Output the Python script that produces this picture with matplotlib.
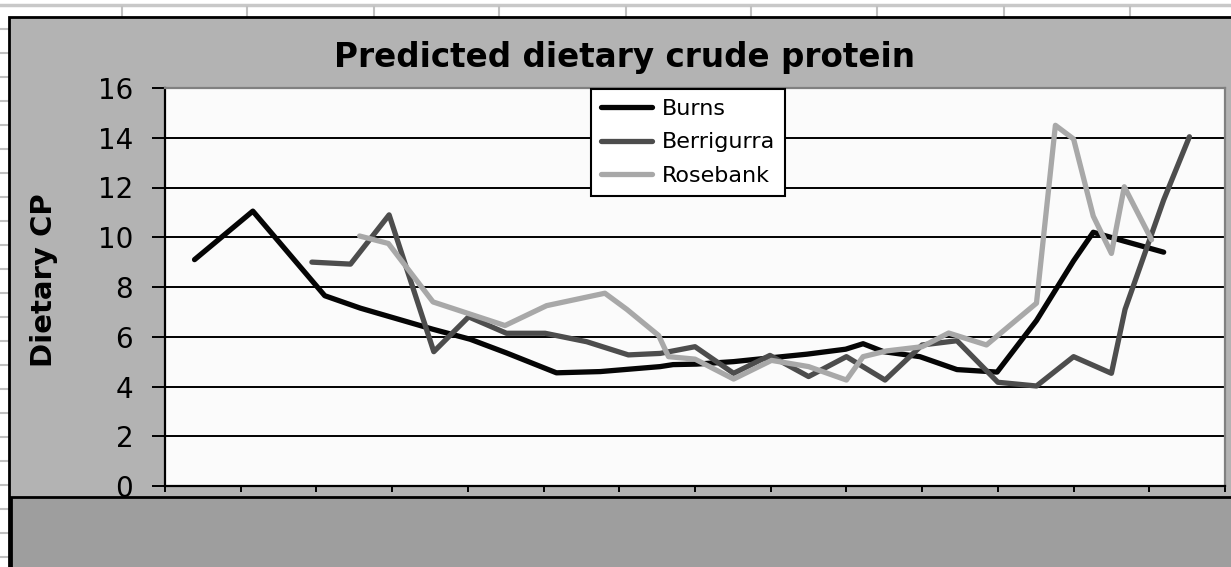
import matplotlib
matplotlib.use("Agg")
import matplotlib.pyplot as plt
from matplotlib.lines import Line2D
from matplotlib.patches import Rectangle

# data (x in units of axis tick intervals)
burns_x = [0.39, 1.16, 2.11, 2.58, 3.54, 4.03, 4.51, 5.17, 5.75, 6.54,
           6.71, 7.02, 7.51, 7.99, 8.48, 8.99, 9.22, 9.49, 9.97, 10.46,
           10.99, 11.51, 12.0, 12.26, 12.66, 13.19]
burns_y = [9.1, 11.05, 7.65, 7.15, 6.3, 5.9, 5.35, 4.55, 4.6, 4.8,
           4.88, 4.9, 5.0, 5.15, 5.3, 5.5, 5.72, 5.4, 5.2, 4.68,
           4.58, 6.65, 9.05, 10.2, 9.85, 9.4]

berri_x = [1.94, 2.45, 2.96, 3.55, 4.01, 4.51, 5.02, 5.57, 6.12, 6.54,
           7.0, 7.51, 7.99, 8.5, 9.0, 9.51, 10.0, 10.46, 11.0, 11.51,
           12.0, 12.5, 12.68, 13.19, 13.53]
berri_y = [9.0, 8.92, 10.9, 5.4, 6.8, 6.14, 6.14, 5.8, 5.27, 5.33,
           5.6, 4.53, 5.25, 4.4, 5.2, 4.26, 5.67, 5.84, 4.17, 4.02,
           5.2, 4.53, 7.1, 11.5, 14.04]

rose_x = [2.57, 2.95, 3.54, 3.99, 4.49, 5.04, 5.81, 6.1, 6.52, 6.65,
          7.0, 7.51, 8.01, 8.5, 9.0, 9.22, 9.53, 10.0, 10.35, 10.85,
          11.51, 11.76, 12.0, 12.26, 12.5, 12.67, 13.03]
rose_y = [10.05, 9.75, 7.4, 6.95, 6.45, 7.25, 7.75, 7.1, 6.05, 5.2,
          5.1, 4.3, 5.05, 4.8, 4.26, 5.2, 5.43, 5.6, 6.15, 5.67,
          7.35, 14.5, 13.95, 10.85, 9.35, 12.03, 9.9]

series = [("Burns", burns_x, burns_y, "#050505"),
          ("Berrigurra", berri_x, berri_y, "#4d4d4d"),
          ("Rosebank", rose_x, rose_y, "#a8a8a8")]

yticks = [0, 2, 4, 6, 8, 10, 12, 14, 16]
n_cats = 14

W, H = 1231, 567
plt.rcParams['font.family'] = ['DejaVu Sans']
fig = plt.figure(figsize=(W / 100, H / 100), dpi=100, facecolor="white")


def fx(px):
    return px / W


def fy(py):
    return 1 - py / H


# spreadsheet grid behind the chart
fig.add_artist(Line2D([0, 1], [fy(5), fy(5)], color="#c8c8c8", lw=2.5, zorder=-5))
for px in [122, 247, 374, 499, 626, 751, 877, 1004, 1130]:
    fig.add_artist(Line2D([fx(px), fx(px)], [fy(7), fy(17)], color="#c0c0c0",
                          lw=1.5, zorder=-5))
for py in range(29, 567, 24):
    fig.add_artist(Line2D([0, fx(8)], [fy(py), fy(py)], color="#c0c0c0",
                          lw=1.5, zorder=-5))

# chart area
fig.add_artist(Rectangle((fx(9), fy(575)), fx(1240), fy(17) - fy(575),
                         facecolor="#b3b3b3", edgecolor="black", lw=2, zorder=-4))
fig.add_artist(Rectangle((fx(11), fy(575)), fx(1240), fy(497) - fy(575),
                         facecolor="#9e9e9e", edgecolor="black", lw=2, zorder=-3))

ax = fig.add_axes([fx(165), fy(486), fx(1225) - fx(165), fy(88) - fy(486)])
ax.set_zorder(2)
ax.set_facecolor("#fbfbfb")

for v in yticks[1:-1]:
    ax.axhline(v, color="black", lw=1.4, zorder=1)

for name, xs, ys, c in series:
    ax.plot(xs, ys, color=c, lw=3.8, label=name, solid_capstyle="round",
            solid_joinstyle="round", zorder=3)

ax.set_xlim(0, n_cats)
ax.set_ylim(0, 16)
ax.set_yticks(yticks)
ax.set_xticks(range(n_cats + 1))
ax.set_xticklabels([])
ax.tick_params(axis="y", direction="out", length=9.4, width=1.4, pad=13.5,
               labelsize=20, colors="black")
ax.tick_params(axis="x", direction="out", length=4, width=1.4)
for s in ["left", "bottom"]:
    ax.spines[s].set_color("black")
    ax.spines[s].set_linewidth(1.6)
for s in ["top", "right"]:
    ax.spines[s].set_color("#808080")
    ax.spines[s].set_linewidth(1.6)

leg = ax.legend(loc="upper center", bbox_to_anchor=(fx(688), fy(89)),
                bbox_transform=fig.transFigure, borderaxespad=0,
                fontsize=16, handlelength=2.3, handletextpad=0.4,
                labelspacing=0.6, borderpad=0.45, frameon=True,
                fancybox=False, framealpha=1)
leg.get_frame().set_edgecolor("black")
leg.get_frame().set_linewidth(1.5)
leg.set_zorder(5)

fig.text(fx(624), fy(67), "Predicted dietary crude protein", ha="center",
         va="baseline", fontsize=23.5, fontweight="bold")
fig.text(fx(44), fy(280), "Dietary CP", rotation=90, ha="center",
         va="center", fontsize=21, fontweight="bold")

fig.savefig("out.png", dpi=100, facecolor="white")
